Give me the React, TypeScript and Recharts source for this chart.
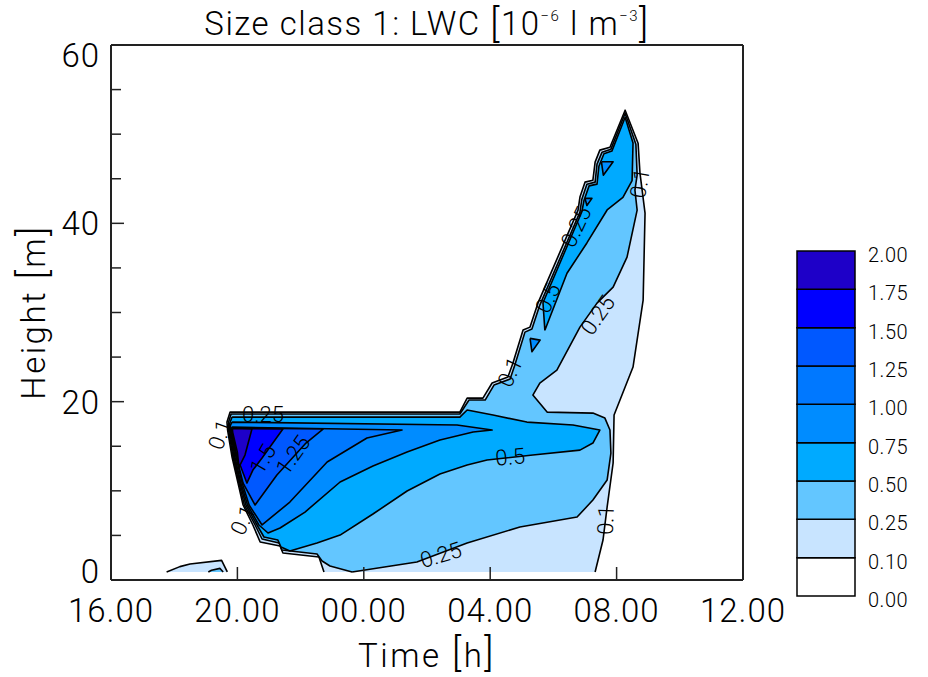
import React from 'react';
import { ScatterChart, Scatter, XAxis, YAxis, BarChart, Bar } from 'recharts';

type Pt = [number, number];

const timeTicks = [16, 20, 24, 28, 32, 36];
const timeLabels = ['16.00', '20.00', '00.00', '04.00', '08.00', '12.00'];
const heightTicks = [0, 5, 10, 15, 20, 25, 30, 35, 40, 45, 50, 55, 60];
const levelLabels = ['0.00', '0.10', '0.25', '0.50', '0.75', '1.00', '1.25', '1.50', '1.75', '2.00'];
const levelColors = ['#ffffff', '#c8e4ff', '#63c6ff', '#00aaff', '#008cff', '#0078ff', '#0058ff', '#0000ff', '#1e00c8'];

// contour regions: [time h, height m]
const lwc010Main: Pt[] = [
  [22.74, 0.9], [22.58, 2.58], [21.44, 3.03], [21.35, 3.81], [20.72, 4.26], [20.49, 6.17], [20.18, 8.41],
  [20.02, 10.87], [19.83, 13.79], [19.69, 16.82], [19.67, 17.71], [19.77, 18.83], [27.04, 18.83], [27.27, 20.4],
  [27.77, 20.4], [28.06, 22.09], [28.56, 22.76], [28.72, 24.33], [29.04, 28.03], [29.26, 28.36], [29.51, 31.05],
  [30.78, 41.48], [30.84, 42.94], [31.0, 44.62], [31.25, 44.84], [31.32, 46.86], [31.47, 48.21], [31.79, 48.54],
  [32.27, 52.69], [32.68, 48.99], [32.74, 45.63], [32.9, 41.14], [32.84, 31.39], [32.52, 23.88], [31.92, 18.5],
  [31.89, 13.12], [31.7, 8.18], [31.57, 4.48], [31.32, 0.9],
];
const lwc010Blob: Pt[] = [[17.76, 0.9], [18.18, 1.5], [18.5, 1.8], [19.5, 2.2], [19.68, 0.9]];
const lwc025Blob: Pt[] = [[19.08, 0.9], [19.18, 1.1], [19.45, 1.3], [19.55, 0.9]];
const lwc025Main: Pt[] = [
  [23.63, 0.9], [22.93, 1.57], [22.68, 2.13], [22.52, 2.91], [21.41, 3.36], [21.32, 4.15], [20.78, 4.6],
  [20.56, 6.17], [20.22, 8.41], [20.05, 10.87], [19.86, 13.79], [19.72, 16.82], [19.72, 17.71], [19.8, 18.61],
  [27.04, 18.61], [27.33, 20.18], [27.84, 20.18], [28.12, 21.86], [28.63, 22.53], [28.78, 24.1], [29.1, 27.8],
  [29.32, 28.14], [29.57, 30.83], [30.84, 41.26], [30.9, 42.71], [31.06, 44.39], [31.32, 44.62], [31.38, 46.64],
  [31.54, 47.98], [31.82, 48.32], [32.27, 52.35], [32.61, 48.88], [32.65, 45.4], [32.58, 43.72], [32.65, 41.48],
  [32.33, 36.21], [31.89, 32.85], [31.38, 31.05], [30.84, 28.36], [30.11, 23.54], [29.57, 22.09], [29.35, 20.74],
  [29.8, 18.83], [31.25, 18.72], [31.63, 18.16], [31.79, 16.82], [31.82, 14.24], [31.7, 11.21], [31.25, 8.97],
  [30.75, 7.06], [28.94, 5.94], [27.27, 4.15], [25.68, 2.02], [23.63, 0.9],
];
const lwc050Main: Pt[] = [
  [19.83, 18.27], [27.04, 18.27], [27.27, 19.06], [28.09, 18.5], [29.16, 17.71], [30.62, 17.38], [31.47, 16.82],
  [31.25, 15.36], [30.84, 14.57], [29.35, 14.01], [27.9, 13.45], [27.27, 12.89], [26.41, 11.88], [25.37, 9.98],
  [24.29, 7.4], [23.25, 5.04], [22.52, 4.15], [21.66, 3.25], [21.38, 3.7], [21.28, 4.48], [20.84, 4.82],
  [20.62, 6.17], [20.27, 8.41], [20.08, 10.87], [19.89, 13.79], [19.75, 16.82], [19.75, 17.49], [19.83, 18.27],
];
const lwc050Ridge: Pt[] = [
  [29.73, 28.0], [29.67, 31.1], [30.9, 41.3], [30.97, 42.6], [31.13, 44.2], [31.38, 44.4], [31.44, 46.4],
  [31.6, 47.8], [31.85, 48.1], [32.27, 51.9], [32.52, 49.0], [32.49, 44.8], [32.2, 42.9], [31.7, 41.5],
  [31.06, 37.8], [30.43, 34.4], [29.73, 28.0],
];
const lwc075Main: Pt[] = [
  [19.83, 17.71], [26.95, 17.38], [28.06, 16.82], [27.46, 16.59], [26.41, 15.7], [25.37, 14.35], [24.29, 12.78],
  [23.25, 10.99], [22.14, 7.62], [21.35, 5.83], [20.97, 5.27], [20.68, 6.17], [20.32, 8.41], [20.11, 10.87],
  [19.92, 13.79], [19.78, 16.82], [19.78, 17.38], [19.83, 17.71],
];
const lwc075Spot1: Pt[] = [[31.52, 46.9], [31.89, 46.9], [31.58, 45.4], [31.52, 46.9]];
const lwc075Spot2: Pt[] = [[31.0, 42.8], [31.22, 42.8], [31.06, 42.0], [31.0, 42.8]];
const lwc075Spot3: Pt[] = [[29.26, 27.1], [29.58, 26.9], [29.32, 25.6], [29.26, 27.1]];
const lwc100Main: Pt[] = [
  [19.83, 17.15], [25.21, 16.82], [24.1, 15.92], [22.84, 13.23], [21.66, 8.74], [20.78, 6.17], [20.37, 8.41],
  [20.15, 10.87], [19.96, 13.79], [19.8, 16.82], [19.83, 17.15],
];
const lwc125Main: Pt[] = [
  [19.83, 17.04], [22.71, 16.93], [22.17, 15.36], [21.25, 11.77], [20.56, 8.41], [20.18, 10.87], [19.97, 13.79],
  [19.81, 16.59], [19.83, 17.04],
];
const lwc150Main: Pt[] = [
  [19.83, 16.98], [21.44, 16.93], [20.78, 13.68], [20.49, 12.33], [20.3, 10.87], [19.99, 13.79], [19.83, 16.59],
  [19.83, 16.98],
];
const lwc175Main: Pt[] = [
  [19.84, 17.0], [20.46, 16.93], [20.24, 14.01], [20.05, 12.67], [20.0, 14.3], [19.85, 16.59], [19.84, 17.0],
];

const contourLabels = [
  { h: 20.81, m: 18.6, text: '0.25', angle: 0 },
  { h: 19.45, m: 16.3, text: '0.1', angle: -70 },
  { h: 20.18, m: 6.7, text: '0.1', angle: -65 },
  { h: 20.81, m: 13.56, text: '1.5', angle: -60 },
  { h: 21.76, m: 14.01, text: '1.25', angle: -55 },
  { h: 28.63, m: 13.79, text: '0.5', angle: -5 },
  { h: 26.44, m: 2.8, text: '0.25', angle: -17 },
  { h: 31.66, m: 6.73, text: '0.1', angle: -88 },
  { h: 32.74, m: 44.5, text: '0.1', angle: -80 },
  { h: 31.41, m: 29.7, text: '0.25', angle: -55 },
  { h: 29.83, m: 31.6, text: '0.5', angle: -65 },
  { h: 30.72, m: 39.6, text: '0.25', angle: -65 },
  { h: 28.63, m: 23.3, text: '0.1', angle: -65 },
];

const regions: { pts: Pt[]; level: number }[] = [
  { pts: lwc010Main, level: 1 },
  { pts: lwc010Blob, level: 1 },
  { pts: lwc025Blob, level: 2 },
  { pts: lwc025Main, level: 2 },
  { pts: lwc050Main, level: 3 },
  { pts: lwc050Ridge, level: 3 },
  { pts: lwc075Main, level: 4 },
  { pts: lwc075Spot1, level: 4 },
  { pts: lwc075Spot2, level: 4 },
  { pts: lwc075Spot3, level: 4 },
  { pts: lwc100Main, level: 5 },
  { pts: lwc125Main, level: 6 },
  { pts: lwc150Main, level: 7 },
  { pts: lwc175Main, level: 8 },
];

const FONT = 'Roboto, "DejaVu Sans", sans-serif';
const AXIS = '#222';

const noDot = () => <g />;

const BottomTick = (p: any) => {
  const i = timeTicks.indexOf(p.payload.value);
  return (
    <g>
      <line x1={p.x} x2={p.x} y1={p.y} y2={p.y - 13} stroke={AXIS} strokeWidth={1.5} />
      <text x={p.x} y={p.y + 42} textAnchor="middle" fontSize={33} fontWeight={300} fontFamily={FONT}
        letterSpacing={1} fill="#000">
        {timeLabels[i]}
      </text>
    </g>
  );
};
const TopTick = (p: any) => (
  <line x1={p.x} x2={p.x} y1={p.y} y2={p.y + 13} stroke={AXIS} strokeWidth={1.5} />
);
const LeftTick = (p: any) => {
  const v = p.payload.value;
  const major = v % 20 === 0;
  const dy = v === 60 ? 22 : v === 0 ? 3 : 12;
  return (
    <g>
      <line x1={p.x} x2={p.x + (major ? 13 : 10)} y1={p.y} y2={p.y} stroke={AXIS} strokeWidth={1.5} />
      {major && (
        <text x={p.x - 11} y={p.y + dy} textAnchor="end" fontSize={33} fontWeight={300} fontFamily={FONT}
          letterSpacing={1} fill="#000">
          {v}
        </text>
      )}
    </g>
  );
};
const RightTick = (p: any) => {
  const major = p.payload.value % 20 === 0;
  return <line x1={p.x} x2={p.x - (major ? 13 : 10)} y1={p.y} y2={p.y} stroke={AXIS} strokeWidth={1.5} />;
};
const ContourLabel = (p: any) => {
  const d = p.payload ?? p;
  return (
    <text
      x={p.cx}
      y={p.cy}
      transform={`rotate(${d.angle} ${p.cx} ${p.cy})`}
      textAnchor="middle"
      dominantBaseline="central"
      fontSize={22}
      fontWeight={300}
      fontFamily={FONT}
      fill="#000"
    >
      {d.text}
    </text>
  );
};
const BarTick = (p: any) => (
  <text x={p.x + 13} y={p.y + 4} dominantBaseline="central" fontSize={20} fontWeight={300} fontFamily={FONT}
    letterSpacing={0.5} fill="#000">
    {levelLabels[p.payload.value]}
  </text>
);

const barRow = [Object.fromEntries(levelColors.map((_, i) => [`l${i}`, 1]))];

const txt = { fontFamily: FONT, fontWeight: 300, fill: '#000' } as const;

export default function App() {
  return (
    <div style={{ position: 'absolute', left: 0, top: 0, width: 928, height: 677, background: '#fff' }}>
      <svg width={928} height={52} style={{ position: 'absolute', left: 0, top: 0 }}>
        <text x={427} y={35} textAnchor="middle" fontSize={33} letterSpacing={1.5} {...txt}>
          Size class 1: LWC <tspan fontSize={38} dy={2}>[</tspan>
          <tspan dy={-2}>10</tspan>
          <tspan fontSize={15} dy={-14}>−6</tspan>
          <tspan dy={14}> l m</tspan>
          <tspan fontSize={15} dy={-14}>−3</tspan>
          <tspan fontSize={38} dy={16}>]</tspan>
        </text>
      </svg>
      <svg width={928} height={57} style={{ position: 'absolute', left: 0, top: 620 }}>
        <text x={427} y={47} textAnchor="middle" fontSize={33} letterSpacing={2.5} {...txt}>
          Time <tspan fontSize={38} dy={-1}>[</tspan>
          <tspan dy={1}>h</tspan>
          <tspan fontSize={38} dy={-1}>]</tspan>
        </text>
      </svg>
      <svg width={62} height={677} style={{ position: 'absolute', left: 0, top: 0 }}>
        <text x={45} y={312} textAnchor="middle" transform="rotate(-90 45 312)" fontSize={33} letterSpacing={2.5} {...txt}>
          Height <tspan fontSize={38} dy={1}>[</tspan>
          <tspan dy={-1}>m</tspan>
          <tspan fontSize={38} dy={1}>]</tspan>
        </text>
      </svg>

      <div style={{ position: 'absolute', left: 0, top: 0 }}>
        <ScatterChart width={928} height={677} margin={{ top: 35, right: 175, bottom: 67, left: 51 }}>
          <XAxis
            type="number"
            dataKey="h"
            domain={[16, 36]}
            ticks={timeTicks}
            interval={0}
            height={30}
            allowDataOverflow
            tickSize={0}
            tickMargin={0}
            tick={BottomTick}
            tickLine={false}
            axisLine={{ stroke: AXIS, strokeWidth: 2 }}
          />
          <XAxis
            xAxisId="top"
            orientation="top"
            type="number"
            domain={[16, 36]}
            ticks={timeTicks}
            interval={0}
            height={10}
            tickSize={0}
            tickMargin={0}
            tick={TopTick}
            tickLine={false}
            axisLine={{ stroke: AXIS, strokeWidth: 2 }}
          />
          <YAxis
            type="number"
            dataKey="m"
            domain={[0, 60]}
            ticks={heightTicks}
            interval={0}
            width={60}
            allowDataOverflow
            tickSize={0}
            tickMargin={0}
            tick={LeftTick}
            tickLine={false}
            axisLine={{ stroke: AXIS, strokeWidth: 2 }}
          />
          <YAxis
            yAxisId="right"
            orientation="right"
            type="number"
            domain={[0, 60]}
            ticks={heightTicks}
            interval={0}
            width={10}
            tickSize={0}
            tickMargin={0}
            tick={RightTick}
            tickLine={false}
            axisLine={{ stroke: AXIS, strokeWidth: 2 }}
          />
          {regions.map((r, i) => (
            <Scatter
              key={i}
              data={r.pts.map(([h, m]) => ({ h, m }))}
              shape={noDot}
              isAnimationActive={false}
              lineType="joint"
              line={{ fill: levelColors[r.level], stroke: '#000', strokeWidth: 1.6, strokeLinejoin: 'round' }}
            />
          ))}
          <Scatter data={contourLabels} shape={ContourLabel} isAnimationActive={false} />
        </ScatterChart>
      </div>

      <div style={{ position: 'absolute', left: 795, top: 237 }}>
        <BarChart width={146} height={389} data={barRow} margin={{ top: 14, right: 0, bottom: 30, left: 2 }} barCategoryGap={0}>
          <XAxis type="category" hide />
          <YAxis
            orientation="right"
            type="number"
            domain={[0, 9]}
            ticks={[0, 1, 2, 3, 4, 5, 6, 7, 8, 9]}
            interval={0}
            width={86}
            tickSize={0}
            tickMargin={0}
            tickLine={false}
            axisLine={false}
            tick={BarTick}
          />
          {levelColors.map((c, i) => (
            <Bar key={i} dataKey={`l${i}`} stackId="s" fill={c} stroke="#000" strokeWidth={1.5} isAnimationActive={false} />
          ))}
        </BarChart>
      </div>
    </div>
  );
}
